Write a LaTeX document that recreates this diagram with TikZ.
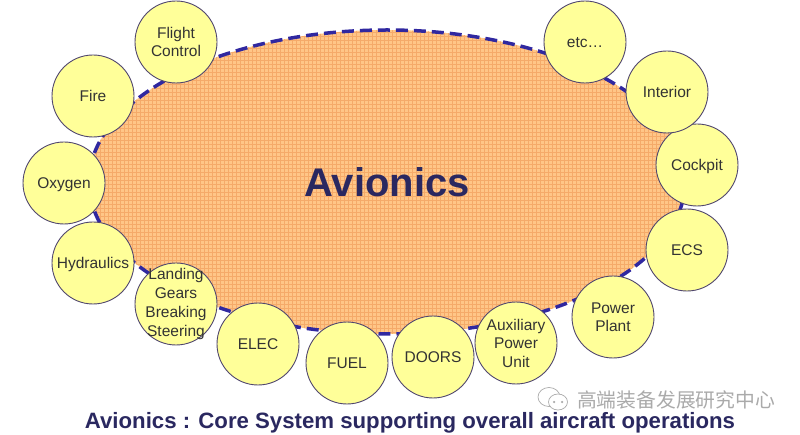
\documentclass[tikz,border=0pt]{standalone}
\usepackage{fontspec}
\setmainfont{Liberation Sans}
\newfontfamily\cjkfont{Noto Sans CJK SC}
\usetikzlibrary{shapes.geometric}
\definecolor{bodyfill}{RGB}{255,198,135}
\definecolor{bodygrid}{RGB}{245,170,105}
\definecolor{bodyline}{RGB}{48,40,160}
\definecolor{sysfill}{RGB}{255,255,153}
\definecolor{sysline}{RGB}{80,70,110}
\definecolor{titletext}{RGB}{42,40,96}
\definecolor{marktext}{RGB}{170,170,170}

\begin{document}
\begin{tikzpicture}
[x=1pt, y=-1pt,
% STYLES
% The body style is the dashed outline of the large ellipse in the middle
body/.style={ellipse, draw=bodyline, line width=3.5pt, dash pattern=on 12pt off 6pt, minimum width=596pt, minimum height=304pt, inner sep=0pt, text=titletext, font=\fontsize{40}{40}\selectfont\bfseries},
bodymesh/.style={draw=bodygrid, line width=0.4pt, step=4pt},
% Define styles for each system around it
system/.style={circle, draw=sysline, line width=0.9pt, fill=sysfill, minimum size=82pt, inner sep=0pt, align=center, text=black!80, font=\fontsize{15.5}{18.5}\selectfont},
oneline/.style={system, text depth=0pt},
caption/.style={text=titletext, font=\fontsize{22.2}{24}\selectfont\bfseries},
marktitle/.style={text=marktext, font=\fontsize{19.8}{20}\selectfont\cjkfont},
bubble/.style={ellipse, draw=marktext, line width=0.7pt, fill=white, inner sep=0pt},
eyedot/.style={circle, fill=marktext, minimum size=2.5pt, inner sep=0pt}]

\useasboundingbox (0,0) rectangle (800,435);

% Core
\begin{scope}
\clip (387,182) ellipse [x radius=298, y radius=152];
\fill[bodyfill] (80,20) rectangle (700,340);
\draw[bodymesh] (80,20) grid (700,340);
\end{scope}
\node [body] (avionics) at (387,182) {Avionics};

% Systems, left side
\node [system] (flight) at (176,42) {Flight\\Control};
\node [oneline] (fire) at (93,96) {Fire};
\node [oneline] (oxygen) at (64,183) {Oxygen};
\node [oneline] (hydraulics) at (93,263) {Hydraulics};
\node [system, inner sep=-14pt, font=\fontsize{15.5}{19}\selectfont] (landing) at (176,304) {Landing\\Gears\\Breaking\\Steering};

% Systems, bottom
\node [oneline] (elec) at (258,344) {ELEC};
\node [oneline] (fuel) at (347,363) {FUEL};
\node [oneline] (doors) at (433,357) {DOORS};
\node [system] (apu) at (516,343) {Auxiliary\\Power\\Unit};

% Systems, right side
\node [system] (power) at (613,317) {Power\\Plant};
\node [oneline] (ecs) at (687,250) {ECS};
\node [oneline] (cockpit) at (697,165) {Cockpit};
\node [oneline] (interior) at (667,92) {Interior};
\node [oneline] (etc) at (585,42) {etc\dots};

%%%%%%%%%%%%%%%%

\node [caption] (title) at (410,423) {Avionics : Core System supporting overall aircraft operations};
\node [marktitle] (wechat) at (676,400) {高端装备发展研究中心};
\node [bubble, minimum width=22pt, minimum height=19pt] (bubbleleft) at (549,397) {};
\node [bubble, minimum width=19pt, minimum height=16pt] (bubbleright) at (558,402) {};
\node [eyedot] (eyeleft) at (554,402) {};
\node [eyedot] (eyeright) at (562,402) {};

\end{tikzpicture}
\end{document}
